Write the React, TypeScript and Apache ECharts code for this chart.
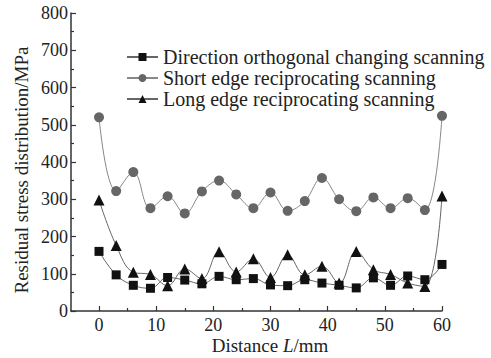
import React, { useEffect, useRef } from "react";
import * as echarts from "echarts";

const distance = [0, 3, 6, 9, 12, 15, 18, 21, 24, 27, 30, 33, 36, 39, 42, 45, 48, 51, 54, 57, 60];
const orthogonal = [160, 97, 69, 61, 90, 83, 73, 93, 84, 87, 70, 68, 84, 75, 69, 62, 89, 69, 94, 84, 125];
const shortEdge = [520, 322, 373, 276, 308, 262, 321, 350, 313, 276, 318, 269, 295, 357, 300, 268, 305, 276, 303, 271, 524];
const longEdge = [298, 176, 104, 98, 68, 113, 87, 159, 105, 140, 90, 151, 97, 120, 75, 160, 111, 98, 75, 66, 309];
const xTicks = [0, 10, 20, 30, 40, 50, 60];
const xMinorTicks = [5, 15, 25, 35, 45, 55];
const seriesNames = [
  "Direction orthogonal changing scanning",
  "Short edge reciprocating scanning",
  "Long edge reciprocating scanning",
];
const yName = "Residual stress distribution/MPa";

const FONT = "'Liberation Serif', 'Times New Roman', serif";
const TXT = "#222";

export default function App() {
  const ref = useRef<HTMLDivElement>(null);
  useEffect(() => {
    const chart = echarts.init(ref.current!, null, { renderer: "svg" });
    const pair = (ys: number[]) => distance.map((x, i) => [x, ys[i]]);
    const axisLine = { onZero: false, lineStyle: { color: "#333", width: 1.5 } };
    chart.setOption({
      animation: false,
      backgroundColor: "#fff",
      textStyle: { fontFamily: FONT },
      grid: { left: 71, right: 49, top: 13, bottom: 47, containLabel: false },
      legend: {
        orient: "vertical",
        left: 121,
        top: 42,
        itemWidth: 31,
        itemHeight: 10,
        itemGap: 1,
        textStyle: { fontFamily: FONT, fontSize: 20, color: TXT },
        data: seriesNames,
      },
      graphic: [
        {
          type: "text",
          x: 21,
          y: 170,
          rotation: Math.PI / 2,
          style: {
            text: yName,
            font: `19px ${FONT}`,
            fill: TXT,
            align: "center",
            verticalAlign: "middle",
          },
        },
        {
          type: "text",
          x: 270,
          y: 345,
          style: {
            text: "{n|Distance }{i|L}{n|/mm}",
            rich: {
              n: { fontFamily: FONT, fontSize: 19, fill: TXT },
              i: { fontFamily: FONT, fontSize: 19, fill: TXT, fontStyle: "italic" },
            },
            align: "center",
            verticalAlign: "middle",
          },
        },
      ],
      xAxis: [
        {
          type: "value",
          min: -4.9,
          max: 60,
          axisLine,
          splitLine: { show: false },
          axisTick: { inside: true, length: 5, customValues: xTicks, lineStyle: { color: "#333", width: 1.2 } },
          axisLabel: { customValues: xTicks, fontFamily: FONT, fontSize: 18, color: TXT, margin: 5 },
        },
        {
          type: "value",
          min: -4.9,
          max: 60,
          position: "bottom",
          axisLine: { show: false, onZero: false },
          splitLine: { show: false },
          axisTick: { inside: true, length: 3, customValues: xMinorTicks, lineStyle: { color: "#333", width: 1.2 } },
          axisLabel: { show: false },
        },
      ],
      yAxis: {
        type: "value",
        min: 0,
        max: 800,
        interval: 100,
        axisLine: { show: true, ...axisLine },
        splitLine: { show: false },
        axisTick: { show: true, inside: true, length: 5, lineStyle: { color: "#333", width: 1.2 } },
        minorTick: { show: true, splitNumber: 2, length: 3, lineStyle: { color: "#333", width: 1.2 } },
        axisLabel: { fontFamily: FONT, fontSize: 18, color: TXT, margin: 3 },
      },
      series: [
        {
          name: seriesNames[0],
          type: "line",
          data: pair(orthogonal),
          smooth: 0.4,
          symbol: "rect",
          symbolSize: 9,
          lineStyle: { color: "#666", width: 1 },
          itemStyle: { color: "#111" },
        },
        {
          name: seriesNames[1],
          type: "line",
          data: pair(shortEdge),
          smooth: 0.4,
          symbol: "circle",
          symbolSize: 10,
          lineStyle: { color: "#888", width: 1 },
          itemStyle: { color: "#666" },
        },
        {
          name: seriesNames[2],
          type: "line",
          data: pair(longEdge),
          smooth: 0.4,
          symbol: "triangle",
          symbolSize: 11,
          lineStyle: { color: "#666", width: 1 },
          itemStyle: { color: "#111" },
        },
      ],
    });
    return () => chart.dispose();
  }, []);
  return <div ref={ref} style={{ position: "absolute", left: 0, top: 0, width: 491, height: 358 }} />;
}
